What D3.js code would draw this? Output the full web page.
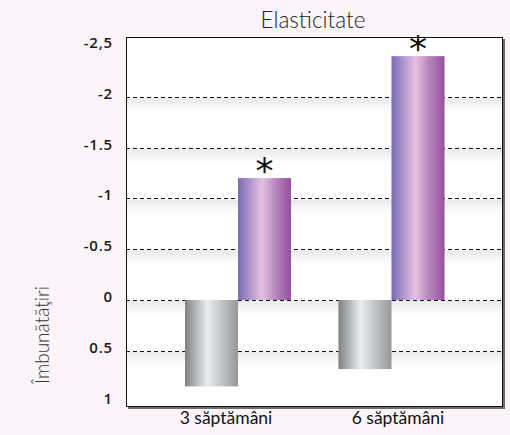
<!DOCTYPE html>
<html>
<head>
<meta charset="utf-8">
<script src="https://cdn.jsdelivr.net/npm/d3@7/dist/d3.min.js"></script>
<style>
  html, body { margin: 0; padding: 0; background: #fbf5f9; }
  svg { display: block; }
</style>
</head>
<body>
<svg id="chart" width="510" height="435"></svg>
<script>
// Elasticity improvement after 3 and 6 weeks (control vs. treatment)
const categories = ["3 săptămâni", "6 săptămâni"];
const seriesNames = ["control", "tratament"];
const controlValues = [0.85, 0.68];
const treatmentValues = [-1.2, -2.4];
const treatmentMarks = ["*", "*"];
const tickValues = [-2.5, -2, -1.5, -1, -0.5, 0, 0.5, 1];
const tickLabels = ["-2,5", "-2", "-1.5", "-1", "-0.5", "0", "0.5", "1"];

const svg = d3.select("#chart");
const frame = { left: 126, right: 503, top: 37, bottom: 407 };

const y = d3.scaleLinear().domain([-2.5, 1]).range([46, 401.6]);
const x0 = d3.scaleBand().domain(categories).range([185, 444.5]).paddingInner(0.309);
const x1 = d3.scaleBand().domain(seriesNames).range([0, x0.bandwidth()]);
const xLabel = d3.scalePoint().domain(categories).range([225.5, 397.5]);

const defs = svg.append("defs");
function hGrad(id, stops) {
  const g = defs.append("linearGradient").attr("id", id)
    .attr("x1", "0%").attr("x2", "100%").attr("y1", "0%").attr("y2", "0%");
  stops.forEach(([o, c]) => g.append("stop").attr("offset", o).attr("stop-color", c));
}
hGrad("gGray", [["0%", "#7e7f81"], ["20%", "#b4b5b7"], ["42%", "#ebecee"], ["65%", "#c9cacc"], ["100%", "#969799"]]);
hGrad("gPurple", [["0%", "#7a6cb6"], ["20%", "#a890c8"], ["45%", "#e5c2e1"], ["70%", "#b887bd"], ["100%", "#9650a0"]]);
const sh = defs.append("linearGradient").attr("id", "gShade")
  .attr("x1", "0%").attr("x2", "0%").attr("y1", "0%").attr("y2", "100%");
sh.append("stop").attr("offset", "0%").attr("stop-color", "#e9e9ea");
sh.append("stop").attr("offset", "100%").attr("stop-color", "#ffffff");

// frame shadow and plot background
svg.append("rect")
  .attr("x", frame.left + 2).attr("y", frame.top + 2)
  .attr("width", frame.right - frame.left).attr("height", frame.bottom - frame.top)
  .attr("fill", "#6e6e6e");
svg.append("rect")
  .attr("x", frame.left).attr("y", frame.top)
  .attr("width", frame.right - frame.left).attr("height", frame.bottom - frame.top)
  .attr("fill", "#ffffff");

// soft band under each grid line
const gridVals = tickValues.filter(v => v > -2.5 && v < 1);
svg.append("g").selectAll("rect").data(gridVals).join("rect")
  .attr("x", frame.left + 1).attr("y", d => y(d) + 1)
  .attr("width", frame.right - frame.left - 2).attr("height", 14)
  .attr("fill", "url(#gShade)");

// dashed grid lines
svg.append("g").selectAll("line").data(gridVals).join("line")
  .attr("x1", frame.left).attr("x2", frame.right)
  .attr("y1", d => Math.round(y(d)) + 0.5).attr("y2", d => Math.round(y(d)) + 0.5)
  .attr("stroke", "#111").attr("stroke-width", 1).attr("stroke-dasharray", "4,3");

// bars
const rows = categories.map((c, i) => ({
  cat: c,
  vals: [
    { s: "control", v: controlValues[i] },
    { s: "tratament", v: treatmentValues[i] }
  ]
}));
const groups = svg.append("g").selectAll("g").data(rows).join("g")
  .attr("transform", d => `translate(${x0(d.cat)},0)`);
groups.selectAll("rect").data(d => d.vals).join("rect")
  .attr("x", d => x1(d.s))
  .attr("width", x1.bandwidth())
  .attr("y", d => Math.min(y(0), y(d.v)))
  .attr("height", d => Math.abs(y(d.v) - y(0)))
  .attr("fill", d => d.s === "control" ? "url(#gGray)" : "url(#gPurple)");

// significance markers above treatment bars
groups.append("text")
  .attr("x", x1("tratament") + x1.bandwidth() / 2)
  .attr("y", (d, i) => y(treatmentValues[i]) + 5)
  .attr("text-anchor", "middle")
  .attr("font-family", "DejaVu Sans, sans-serif")
  .attr("font-size", 36)
  .attr("fill", "#111")
  .text((d, i) => treatmentMarks[i]);

// frame border
svg.append("rect")
  .attr("x", frame.left + 0.5).attr("y", frame.top + 0.5)
  .attr("width", frame.right - frame.left - 1).attr("height", frame.bottom - frame.top - 1)
  .attr("fill", "none").attr("stroke", "#111").attr("stroke-width", 1);

// y axis labels
const yAxis = d3.axisLeft(y).tickValues(tickValues)
  .tickFormat((d, i) => tickLabels[i]).tickSize(0).tickPadding(0);
const ya = svg.append("g").attr("transform", "translate(113,0)").call(yAxis);
ya.select(".domain").remove();
ya.selectAll("text")
  .attr("font-family", "Open Sans, sans-serif")
  .attr("font-weight", 600)
  .attr("font-size", 15)
  .attr("letter-spacing", "0.8px")
  .attr("fill", "#1a1a1a")
  .attr("dy", "0.1em");

// x category labels
const xAxis = d3.axisBottom(xLabel).tickSize(0).tickPadding(0);
const xa = svg.append("g").attr("transform", "translate(0,412)").call(xAxis);
xa.select(".domain").remove();
xa.selectAll("text")
  .attr("font-family", "Lato, sans-serif")
  .attr("font-size", 17.5)
  .attr("fill", "#111");

// titles
svg.append("text")
  .attr("x", 313).attr("y", 28)
  .attr("text-anchor", "middle")
  .attr("font-family", "Lato, sans-serif")
  .attr("font-weight", 300)
  .attr("font-size", 22.5)
  .attr("fill", "#222")
  .text("Elasticitate");

svg.append("text")
  .attr("transform", "translate(49,335) rotate(-90)")
  .attr("text-anchor", "middle")
  .attr("font-family", "Lato, sans-serif")
  .attr("font-weight", 300)
  .attr("font-size", 19)
  .attr("fill", "#333")
  .text("Îmbunătăţiri");
</script>
</body>
</html>
